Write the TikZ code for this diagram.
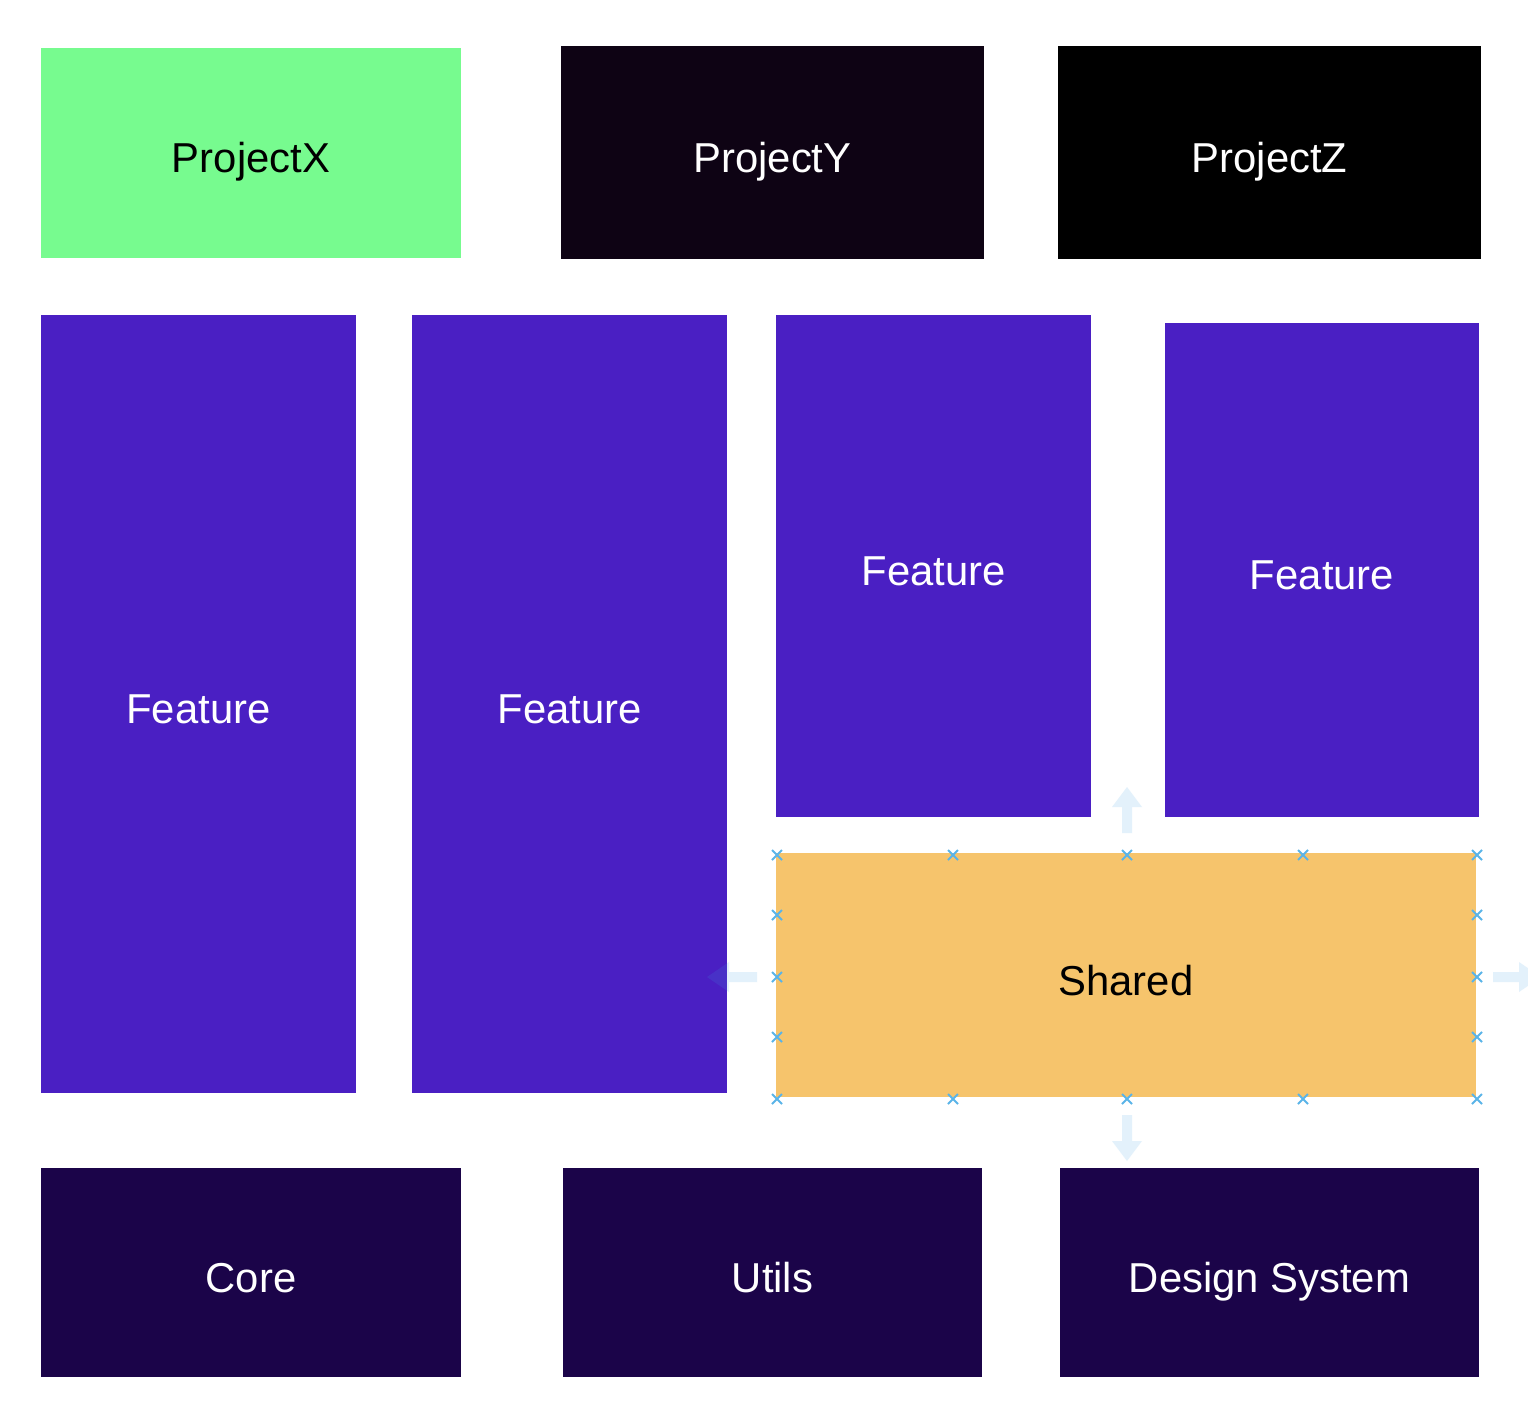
\documentclass[tikz,border=0pt]{standalone}
\usepackage{fontspec}
\setmainfont{Liberation Sans}
\begin{document}
\begin{tikzpicture}[x=0.02cm,y=-0.02cm,
  box/.style={inner sep=0pt,outer sep=0pt,draw=none,font=\fontsize{23.8}{28}\selectfont,text=white,text height=22.75pt,text depth=0pt},
  handle/.style={draw={rgb,255:red,90;green,180;blue,232},line width=1.1pt},
  hint/.style={fill={rgb,255:red,60;green,160;blue,230},fill opacity=0.14,draw=none}]
\definecolor{gx}{HTML}{77FB8F}
\definecolor{dy}{HTML}{0E0314}
\definecolor{feat}{HTML}{4A1FC3}
\definecolor{shr}{HTML}{F6C46C}
\definecolor{base}{HTML}{1B0449}
\useasboundingbox (0,0) rectangle (1528,1424);
\fill[white] (0,0) rectangle (1528,1424);
% top row
\node[box,fill=gx,text=black,minimum width=420*0.02cm,minimum height=210*0.02cm] (px) at (251,153) {ProjectX};
\node[box,fill=dy,minimum width=423*0.02cm,minimum height=213*0.02cm] (py) at (772.5,152.5) {ProjectY};
\node[box,fill=black,minimum width=423*0.02cm,minimum height=213*0.02cm] (pz) at (1269.5,152.5) {ProjectZ};
% features
\node[box,fill=feat,minimum width=315*0.02cm,minimum height=778*0.02cm] (f1) at (198.5,704) {Feature};
\node[box,fill=feat,minimum width=315*0.02cm,minimum height=778*0.02cm] (f2) at (569.5,704) {Feature};
\node[box,fill=feat,minimum width=315*0.02cm,minimum height=502*0.02cm] (f3) at (933.5,566) {Feature};
\node[box,fill=feat,minimum width=314*0.02cm,minimum height=494*0.02cm] (f4) at (1322,570) {Feature};
% shared
\node[box,fill=shr,text=black,minimum width=700*0.02cm,minimum height=244*0.02cm] (sh) at (1126,975) {Shared};
% bottom row
\node[box,fill=base,minimum width=420*0.02cm,minimum height=209*0.02cm] (core) at (251,1272.5) {Core};
\node[box,fill=base,minimum width=419*0.02cm,minimum height=209*0.02cm] (utils) at (772.5,1272.5) {Utils};
\node[box,fill=base,minimum width=419*0.02cm,minimum height=209*0.02cm] (ds) at (1269.5,1272.5) {Design System};
% selection handles
\foreach \hx in {777,953,1127,1303,1477}{
  \foreach \hy in {855,1099}{
    \draw[handle] (\hx-5,\hy-5) -- (\hx+5,\hy+5) (\hx-5,\hy+5) -- (\hx+5,\hy-5);
  }}
\foreach \hx in {777,1477}{
  \foreach \hy in {915,977,1037}{
    \draw[handle] (\hx-5,\hy-5) -- (\hx+5,\hy+5) (\hx-5,\hy+5) -- (\hx+5,\hy-5);
  }}
% hover arrows
\fill[hint] (1122,833) -- (1122,807) -- (1112,807) -- (1127,787) -- (1142,807) -- (1132,807) -- (1132,833) -- cycle;
\fill[hint] (1122,1115) -- (1122,1141) -- (1112,1141) -- (1127,1161) -- (1142,1141) -- (1132,1141) -- (1132,1115) -- cycle;
\fill[hint] (757,972) -- (729,972) -- (729,962) -- (707,977) -- (729,992) -- (729,982) -- (757,982) -- cycle;
\fill[hint] (1493,972) -- (1519,972) -- (1519,962) -- (1541,977) -- (1519,992) -- (1519,982) -- (1493,982) -- cycle;
\end{tikzpicture}
\end{document}
